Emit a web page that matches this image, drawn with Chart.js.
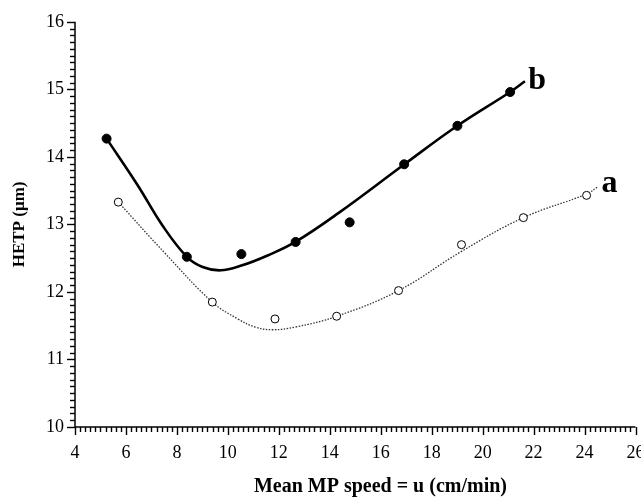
<!DOCTYPE html>
<html>
<head>
<meta charset="utf-8">
<script src="https://cdn.jsdelivr.net/npm/chart.js@4.4.1/dist/chart.umd.min.js"></script>
<style>
  html, body { margin: 0; padding: 0; background: #ffffff; }
  #wrap { width: 641px; height: 499px; }
</style>
</head>
<body>
<div id="wrap"><canvas id="c" width="641" height="499"></canvas></div>
<script>
// ---- data ----
// series b (filled circles)
const bU = [5.24, 8.39, 10.53, 12.66, 14.78, 16.92, 19.01, 21.08];
const bH = [14.27, 12.52, 12.56, 12.74, 13.03, 13.89, 14.46, 14.96];
// series a (open circles)
const aU = [5.70, 9.39, 11.85, 14.27, 16.70, 19.17, 21.60, 24.08];
const aH = [13.33, 11.85, 11.60, 11.64, 12.02, 12.70, 13.10, 13.43];
// fitted curve b (solid)
const bFitU = [5.24, 6.46, 7.44, 8.39, 9.01, 9.72, 10.53, 11.56, 12.65, 14.35, 16.93, 19.01, 21.08, 21.66];
const bFitH = [14.27, 13.58, 12.98, 12.52, 12.37, 12.32, 12.39, 12.54, 12.74, 13.17, 13.89, 14.46, 14.96, 15.12];
// fitted curve a (dotted)
const aFitU = [5.70, 7.54, 9.39, 10.39, 11.07, 11.76, 12.65, 14.28, 16.70, 19.17, 21.60, 24.08, 24.53];
const aFitH = [13.33, 12.57, 11.85, 11.60, 11.48, 11.44, 11.48, 11.64, 12.02, 12.60, 13.10, 13.45, 13.56];
// curve labels
const curveLabels = ['b', 'a'];
const curveLabelU = [22.14, 24.98];
const curveLabelH = [15.13, 13.60];
// axes
const xMin = 4, xMax = 26, xStep = 2;
const yMin = 10, yMax = 16, yStep = 1;
const xTitle = 'Mean MP speed = u (cm/min)';
const yTitle = 'HETP (\u00b5m)';

const pts = (u, h) => u.map((v, i) => ({x: v, y: h[i]}));

const serif = "'Liberation Serif', 'DejaVu Serif', serif";

const ticksPlugin = {
  id: 'ticksPlugin',
  afterDraw(chart) {
    const ctx = chart.ctx;
    const xs = chart.scales.x, ys = chart.scales.y;
    const ax = xs.getPixelForValue(xMin);
    const ay = ys.getPixelForValue(yMin);
    ctx.save();
    ctx.strokeStyle = '#000';
    ctx.lineWidth = 1.5;
    // axis lines
    ctx.beginPath();
    ctx.moveTo(ax, ys.getPixelForValue(yMax));
    ctx.lineTo(ax, ay);
    ctx.lineTo(xs.getPixelForValue(xMax), ay);
    ctx.stroke();
    // y ticks: minor every 0.1, major every 1
    ctx.lineWidth = 1.4;
    for (let k = 0; k <= (yMax - yMin) * 10; k++) {
      const v = yMin + k / 10;
      const py = Math.round(ys.getPixelForValue(v)) + 0.5;
      const len = (k % 10 === 0) ? 8 : 5;
      ctx.beginPath();
      ctx.moveTo(ax, py);
      ctx.lineTo(ax - len, py);
      ctx.stroke();
    }
    // x ticks: minor every 0.2, major every 2
    for (let k = 0; k <= (xMax - xMin) * 5; k++) {
      const v = xMin + k / 5;
      const px = Math.round(xs.getPixelForValue(v)) + 0.5;
      const len = (k % 10 === 0) ? 8 : 5;
      ctx.beginPath();
      ctx.moveTo(px, ay);
      ctx.lineTo(px, ay + len);
      ctx.stroke();
    }
    // curve labels
    ctx.fillStyle = '#000';
    ctx.font = "bold 32px " + serif;
    ctx.textAlign = 'center';
    ctx.textBaseline = 'middle';
    curveLabels.forEach((t, i) => {
      ctx.fillText(t, xs.getPixelForValue(curveLabelU[i]), ys.getPixelForValue(curveLabelH[i]));
    });
    // x axis title (sits slightly right of the plot centre in the reference)
    ctx.font = "bold 20px " + serif;
    const ca = chart.chartArea;
    ctx.fillText(xTitle, ca.left + (ca.right - ca.left) * 0.545, 487);
    ctx.restore();
  }
};

new Chart(document.getElementById('c'), {
  type: 'scatter',
  data: {
    datasets: [
      {
        label: 'b fit', data: pts(bFitU, bFitH), showLine: true,
        borderColor: '#000', borderWidth: 2.6, pointRadius: 0, tension: 0.4,
        fill: false, order: 4
      },
      {
        label: 'a fit', data: pts(aFitU, aFitH), showLine: true,
        borderColor: '#333', borderWidth: 1.3, borderDash: [1.5, 1.5], pointRadius: 0, tension: 0.4,
        fill: false, order: 3
      },
      {
        label: 'b', data: pts(bU, bH), showLine: false,
        pointRadius: 4.5, pointBackgroundColor: '#000', pointBorderColor: '#000', pointBorderWidth: 1,
        order: 1
      },
      {
        label: 'a', data: pts(aU, aH), showLine: false,
        pointRadius: 4, pointBackgroundColor: '#fff', pointBorderColor: '#000', pointBorderWidth: 1,
        order: 2
      }
    ]
  },
  options: {
    responsive: false,
    animation: false,
    devicePixelRatio: 1,
    layout: { padding: { top: 21, right: 5, left: 0, bottom: 0 } },
    plugins: { legend: { display: false }, tooltip: { enabled: false } },
    scales: {
      x: {
        type: 'linear', min: xMin, max: xMax,
        grid: { display: false, drawTicks: false },
        border: { display: false },
        ticks: { stepSize: xStep, padding: 15, color: '#000', font: { family: serif, size: 18 }, maxRotation: 0, autoSkip: false },
        title: { display: false },
        afterFit(scale) { scale.height = 72; scale.paddingRight = 0; scale.paddingLeft = 0; }
      },
      y: {
        type: 'linear', min: yMin, max: yMax,
        grid: { display: false, drawTicks: false },
        border: { display: false },
        ticks: { stepSize: yStep, padding: 11, color: '#000', font: { family: serif, size: 18 }, autoSkip: false },
        title: { display: true, text: yTitle, color: '#000', font: { family: serif, size: 17, weight: 'bold' }, padding: { top: 9, bottom: 0 } },
        afterFit(scale) { scale.width = 75; }
      }
    }
  },
  plugins: [ticksPlugin]
});
</script>
</body>
</html>
